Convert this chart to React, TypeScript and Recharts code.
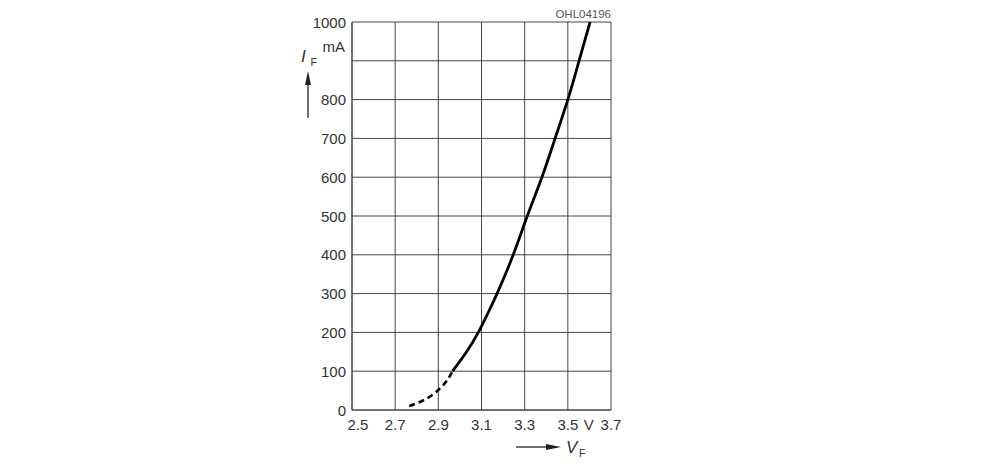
import { CartesianGrid, Line, LineChart, XAxis, YAxis } from "recharts";

// forward voltage (V) vs forward current (mA)
const dashedCurve = [
  { v: 2.765, i: 10 },
  { v: 2.82, i: 22 },
  { v: 2.87, i: 38 },
  { v: 2.91, i: 57 },
  { v: 2.94, i: 76 },
  { v: 2.966, i: 100 },
];

const solidCurve = [
  { v: 2.966, i: 100 },
  { v: 3.031, i: 150 },
  { v: 3.085, i: 200 },
  { v: 3.13, i: 250 },
  { v: 3.172, i: 300 },
  { v: 3.247, i: 400 },
  { v: 3.312, i: 500 },
  { v: 3.38, i: 600 },
  { v: 3.441, i: 700 },
  { v: 3.5, i: 800 },
  { v: 3.552, i: 900 },
  { v: 3.603, i: 1000 },
];

const xTicks = [2.5, 2.7, 2.9, 3.1, 3.3, 3.5, 3.7];
const yTicks = [0, 100, 200, 300, 400, 500, 600, 700, 800, 900, 1000];

const FONT = "Liberation Sans, Arial, sans-serif";
const TEXT = "#333";

function XTick({ x, y, payload }: any) {
  const val = payload.value as number;
  const dx = val === 2.5 ? 6 : 0;
  return (
    <g>
      <text x={x + dx} y={y + 11.5} textAnchor="middle" fontSize={15} fill={TEXT} fontFamily={FONT}>
        {val.toFixed(1)}
      </text>
      {val === 3.5 && (
        <text x={x + 21} y={y + 11.5} textAnchor="middle" fontSize={15} fill={TEXT} fontFamily={FONT}>
          V
        </text>
      )}
    </g>
  );
}

function YTick({ x, y, payload }: any) {
  const val = payload.value as number;
  if (val === 900) {
    return (
      <text x={x + 1} y={y - 9} textAnchor="end" fontSize={15} fill={TEXT} fontFamily={FONT}>
        mA
      </text>
    );
  }
  return (
    <text x={x + 2} y={y + 5.5} textAnchor="end" fontSize={15} fill={TEXT} fontFamily={FONT}>
      {val}
    </text>
  );
}

export default function App() {
  return (
    <div style={{ position: "absolute", left: 0, top: 0, width: 983, height: 464, background: "#fff" }}>
      <LineChart
        width={983}
        height={464}
        margin={{ top: 22, right: 372, bottom: 24, left: 302 }}
      >
        <CartesianGrid stroke="#444" strokeWidth={1} />
        <XAxis
          dataKey="v"
          type="number"
          domain={[2.5, 3.7]}
          ticks={xTicks}
          interval={0}
          height={30}
          axisLine={{ stroke: "#444" }}
          tickLine={false}
          tick={<XTick />}
          allowDataOverflow
        />
        <YAxis
          dataKey="i"
          type="number"
          domain={[0, 1000]}
          ticks={yTicks}
          interval={0}
          width={50}
          axisLine={{ stroke: "#444" }}
          tickLine={false}
          tick={<YTick />}
        />
        <Line
          data={dashedCurve}
          dataKey="i"
          type="natural"
          stroke="#000"
          strokeWidth={2.6}
          strokeDasharray="6 4"
          dot={false}
          isAnimationActive={false}
        />
        <Line
          data={solidCurve}
          dataKey="i"
          type="natural"
          stroke="#000"
          strokeWidth={2.8}
          dot={false}
          isAnimationActive={false}
        />
      </LineChart>
      <svg
        width={983}
        height={464}
        style={{ position: "absolute", left: 0, top: 0, pointerEvents: "none" }}
      >
        <text x={611} y={18} textAnchor="end" fontSize={11.5} fill="#555" fontFamily={FONT}>
          OHL04196
        </text>
        {/* y-axis label I_F with arrow */}
        <text x={301} y={62} fontSize={17} fontStyle="italic" fill={TEXT} fontFamily={FONT}>
          I
        </text>
        <text x={310.5} y={66} fontSize={10.5} fill={TEXT} fontFamily={FONT}>
          F
        </text>
        <line x1={308} y1={118} x2={308} y2={82} stroke="#222" strokeWidth={1.3} />
        <polygon points="308,71 305,85 311,85" fill="#222" />
        {/* x-axis label V_F with arrow */}
        <line x1={516} y1={447} x2={548} y2={447} stroke="#222" strokeWidth={1.3} />
        <polygon points="561,447 546,444 546,450" fill="#222" />
        <text x={566} y={453} fontSize={17} fontStyle="italic" fill={TEXT} fontFamily={FONT}>
          V
        </text>
        <text x={579} y={457} fontSize={10.5} fill={TEXT} fontFamily={FONT}>
          F
        </text>
      </svg>
    </div>
  );
}
